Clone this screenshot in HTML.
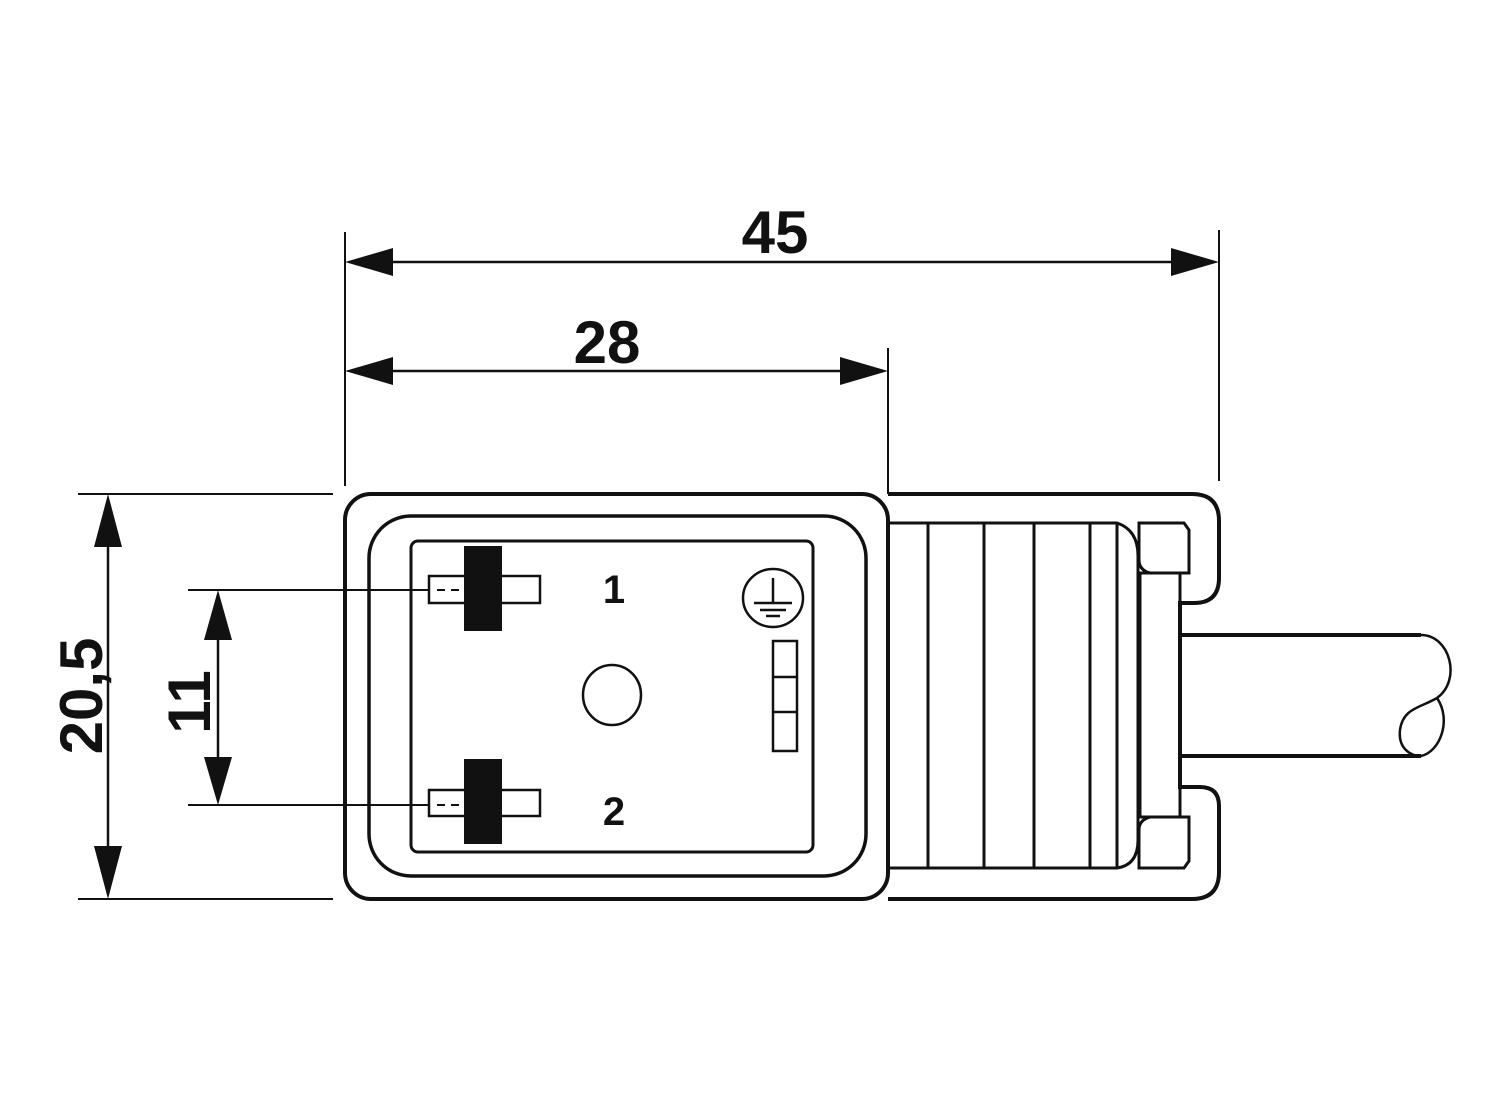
<!DOCTYPE html>
<html><head><meta charset="utf-8"><style>
html,body{margin:0;padding:0;background:#fff;}
svg{display:block;}
text{font-family:"Liberation Sans",sans-serif;font-weight:bold;fill:#111;}
</style></head><body>
<svg width="1500" height="1097" viewBox="0 0 1500 1097" xmlns="http://www.w3.org/2000/svg">
<g stroke="#111" fill="none" stroke-linecap="butt">
<line x1="345" y1="232" x2="345" y2="486" stroke-width="2"/>
<line x1="1219" y1="230" x2="1219" y2="481" stroke-width="2"/>
<line x1="888" y1="348" x2="888" y2="494" stroke-width="2"/>
<line x1="78" y1="494" x2="333" y2="494" stroke-width="2"/>
<line x1="78" y1="899" x2="333" y2="899" stroke-width="2"/>
<line x1="188" y1="590" x2="330" y2="590" stroke-width="2"/>
<line x1="188" y1="805" x2="330" y2="805" stroke-width="2"/>
<line x1="350" y1="262" x2="1214" y2="262" stroke-width="2.5"/>
<line x1="350" y1="371" x2="883" y2="371" stroke-width="2.5"/>
<line x1="108" y1="499" x2="108" y2="894" stroke-width="2.5"/>
<line x1="218" y1="595" x2="218" y2="800" stroke-width="2.5"/>

<rect x="345" y="494" width="543" height="405" rx="26" stroke-width="4"/>
<rect x="369" y="516" width="497" height="360" rx="42" stroke-width="3.5"/>
<rect x="411" y="541" width="402" height="311" rx="7" stroke-width="3"/>

<path d="M888 494 L1192 494 Q1219 494 1219 521 L1219 578 Q1219 603 1194 603 L1180 603 L1180 787 L1200 787 Q1219 787 1219 806 L1219 872 Q1219 899 1192 899 L888 899" stroke-width="4"/>
<path d="M889 523 L1117 523 Q1138 530 1138 556 L1138 840 Q1138 865 1117 868 L889 868" stroke-width="3"/>
<line x1="928" y1="523" x2="928" y2="868" stroke-width="3"/>
<line x1="984" y1="523" x2="984" y2="868" stroke-width="3"/>
<line x1="1034" y1="523" x2="1034" y2="868" stroke-width="3"/>
<line x1="1090" y1="523" x2="1090" y2="868" stroke-width="3"/>
<line x1="1117" y1="523" x2="1117" y2="868" stroke-width="3"/>
<path d="M1139 523 L1184 523 L1189 530 L1189 573 L1150 573 Q1139 570 1139 560 Z" stroke-width="3"/>
<path d="M1139 868 L1184 868 L1189 861 L1189 817 L1150 817 Q1139 820 1139 830 Z" stroke-width="3"/>
<rect x="1140" y="573" width="40" height="244" stroke-width="3"/>
<line x1="1180" y1="635" x2="1421" y2="635" stroke-width="4"/>
<line x1="1180" y1="756" x2="1421" y2="756" stroke-width="4"/>
<path d="M1421 635 C1450 635 1462 680 1437 698 C1420 708 1403 708 1400 730 C1398 748 1410 756 1421 756 C1440 752 1452 720 1437 698" stroke-width="2.5"/>

<rect x="429" y="576" width="111" height="27" stroke-width="2.5"/>
<rect x="429" y="790" width="111" height="26" stroke-width="2.5"/>
<line x1="215" y1="590" x2="429" y2="590" stroke-width="2"/>
<line x1="215" y1="805" x2="429" y2="805" stroke-width="2"/>
<line x1="437" y1="590" x2="463" y2="590" stroke-width="2" stroke-dasharray="8,6"/>
<line x1="437" y1="805" x2="463" y2="805" stroke-width="2" stroke-dasharray="8,6"/>
<line x1="348" y1="590" x2="358" y2="590" stroke-width="2"/>
<line x1="348" y1="805" x2="358" y2="805" stroke-width="2"/>

<ellipse cx="612" cy="695" rx="29" ry="30" stroke-width="2.5"/>
<ellipse cx="773" cy="598" rx="30" ry="29" stroke-width="2.5"/>
<line x1="773" y1="578" x2="773" y2="603" stroke-width="2.5"/>
<line x1="754" y1="603" x2="792" y2="603" stroke-width="2.5"/>
<line x1="760" y1="610" x2="786" y2="610" stroke-width="2.5"/>
<line x1="766" y1="616" x2="780" y2="616" stroke-width="2.5"/>
<rect x="773" y="641" width="24" height="110" stroke-width="2.5"/>
<line x1="773" y1="677" x2="797" y2="677" stroke-width="2.5"/>
<line x1="773" y1="712" x2="797" y2="712" stroke-width="2.5"/>
</g>
<g fill="#111">
<rect x="464" y="546" width="38" height="85"/>
<rect x="464" y="759" width="38" height="85"/>
<polygon points="345,262 393,248 393,276"/>
<polygon points="1219,262 1171,248 1171,276"/>
<polygon points="345,371 393,357 393,385"/>
<polygon points="888,371 840,357 840,385"/>
<polygon points="108,494 94,547 122,547"/>
<polygon points="108,899 94,846 122,846"/>
<polygon points="218,590 204,640 232,640"/>
<polygon points="218,805 204,757 232,757"/>
</g>
<text x="775" y="253" font-size="60" text-anchor="middle">45</text>
<text x="607" y="363" font-size="60" text-anchor="middle">28</text>
<text x="614" y="603" font-size="40" text-anchor="middle">1</text>
<text x="614" y="825" font-size="40" text-anchor="middle">2</text>
<text transform="translate(102 696) rotate(-90)" font-size="60" text-anchor="middle">20,5</text>
<text transform="translate(210 702) rotate(-90)" font-size="60" text-anchor="middle">11</text>
</svg>
</body></html>
